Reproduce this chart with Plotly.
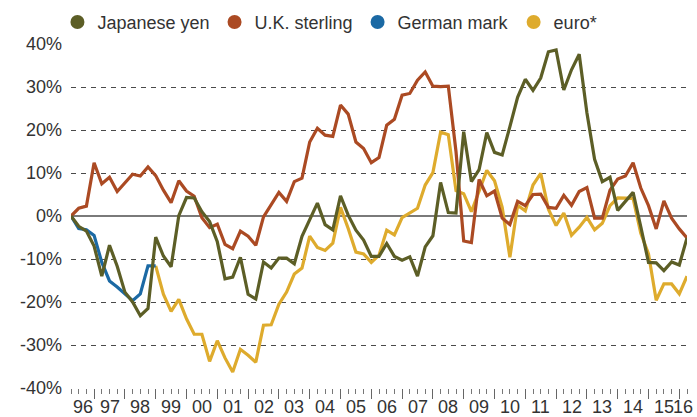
import plotly.graph_objects as go

# Quarterly observations, 1996 Q2 through 2016 Q2 (decimal years)
quarters = [1996.25 + 0.25 * i for i in range(81)]

# Cumulative change against the U.S. dollar, percent
yen = [
    0, -2.4, -3.5, -7.0, -14.0, -6.8, -11.7, -17.7, -20.0, -23.2,
    -21.5, -4.9, -9.3, -11.8, 0.1, 4.3, 4.2, 1.0, -1.3, -6.0,
    -14.6, -14.2, -9.6, -18.2, -19.3, -10.7, -12.1, -9.8, -9.8, -11.1,
    -4.7, -0.8, 3.0, -2.0, -3.2, 4.7, 0.2, -3.3, -5.6, -9.4,
    -9.4, -6.4, -9.4, -10.3, -9.5, -14.0, -7.2, -4.6, 7.8, 0.8,
    0.7, 19.6, 8.0, 10.8, 19.4, 14.8, 14.2, 20.8, 27.6, 31.8,
    29.2, 32.1, 38.2, 38.6, 29.3, 34.0, 37.6, 24.0, 13.2, 8.0,
    9.0, 1.3, 3.4, 5.5, -2.5, -10.8, -10.9, -12.7, -10.7, -11.4,
    -5.1,
]
sterling = [
    0, 1.8, 2.3, 12.4, 7.5, 9.0, 5.7, 7.6, 9.7, 9.3,
    11.4, 9.4, 6.0, 3.1, 8.2, 5.8, 4.6, -0.4, -2.7, -1.9,
    -6.6, -7.6, -3.5, -4.7, -6.8, -0.2, 2.8, 5.5, 3.4, 8.0,
    8.8, 17.2, 20.4, 18.8, 18.5, 25.8, 23.7, 17.2, 15.7, 12.4,
    13.6, 21.1, 22.5, 28.1, 28.5, 31.6, 33.5, 30.2, 30.1, 30.2,
    15.0, -5.8, -6.2, 8.5, 4.7, 5.8, -0.5, -2.0, 3.4, 2.4,
    5.0, 5.1, 2.0, 1.8, 4.8, 2.5, 5.7, 6.6, -0.5, -0.5,
    6.0, 8.6, 9.3, 12.4, 6.5, 2.4, -3.0, 3.5, -0.5, -3.0,
    -5.1,
]
# German mark until the changeover, euro from 1999 onward
mark = [0, -2.9, -3.2, -4.5, -10.8, -15.1, -16.5, -18.0, -19.7, -18.1, -11.6, -11.6]
euro = [
    -11.6, -18.2, -22.2, -19.4, -23.9, -27.5, -27.5, -33.8, -29.0,
    -33.0, -36.3, -31.0, -32.4, -34.0, -25.4, -25.3, -20.5, -17.7, -13.5,
    -12.1, -4.7, -7.3, -8.0, -6.3, 2.0, -2.9, -8.4, -8.8, -10.8,
    -9.1, -3.3, -4.4, -0.4, 0.6, 1.8, 7.2, 10.1, 19.5, 18.9,
    5.9, 5.2, 1.0, 6.0, 10.6, 8.2, 2.0, -9.6, 2.5, 1.2,
    7.2, 9.9, 1.6, -2.2, 0.7, -4.5, -2.6, -0.3, -3.2, -1.7,
    2.4, 4.2, 4.2, 4.1, -4.0, -8.8, -19.6, -15.8, -15.8, -18.1,
    -14.0,
]
mark_x = quarters[:len(mark)]
euro_x = quarters[len(quarters) - len(euro):]

series_names = ["Japanese yen", "U.K. sterling", "German mark", "euro*"]
series_colors = ["#5c5e26", "#ab4a23", "#1b69a4", "#deab2d"]

y_tick_vals = [-40, -30, -20, -10, 0, 10, 20, 30, 40]
y_tick_labels = ["-40%", "-30%", "-20%", "-10%", "0%", "10%", "20%", "30%", "40%"]

years = list(range(1996, 2017))
year_labels = ["96", "97", "98", "99", "00", "01", "02", "03", "04", "05", "06",
               "07", "08", "09", "10", "11", "12", "13", "14", "15", "16"]

x_start, x_end = quarters[0], quarters[-1]
FONT = "Liberation Sans, Arial, Helvetica, sans-serif"
TEXT = "#333333"

fig = go.Figure()

# legend entries drawn as round dots
for name, color in zip(series_names, series_colors):
    fig.add_trace(go.Scatter(
        x=[None], y=[None], mode="markers", name=name,
        marker=dict(color=color, size=14, symbol="circle"),
        showlegend=True, hoverinfo="skip",
    ))

# lines, euro at the bottom and yen on top
line_sets = [
    (euro_x, euro, series_colors[3], series_names[3]),
    (mark_x, mark, series_colors[2], series_names[2]),
    (quarters, sterling, series_colors[1], series_names[1]),
    (quarters, yen, series_colors[0], series_names[0]),
]
for xs, ys, color, name in line_sets:
    fig.add_trace(go.Scatter(
        x=xs, y=ys, mode="lines", name=name, showlegend=False,
        line=dict(color=color, width=3.2),
    ))

# year labels centred on the visible part of each year
for yr, lab in zip(years, year_labels):
    lo = max(yr, x_start)
    hi = min(yr + 1, x_end)
    fig.add_annotation(
        x=(lo + hi) / 2, xref="x", y=-0.056, yref="paper",
        text=lab, showarrow=False, xanchor="center", yanchor="middle",
        font=dict(family=FONT, size=18, color=TEXT),
    )

year_ticks = [y for y in years if x_start < y <= x_end]
quarter_ticks = [q for q in quarters if q not in year_ticks]

fig.update_layout(
    width=697, height=417,
    margin=dict(l=71, r=10, t=44, b=29, autoexpand=False),
    paper_bgcolor="white", plot_bgcolor="white",
    font=dict(family=FONT, size=18, color=TEXT),
    showlegend=True,
    legend=dict(
        orientation="h", x=-0.022, xanchor="left", y=1.063, yanchor="middle",
        font=dict(family=FONT, size=18, color=TEXT),
        bgcolor="rgba(0,0,0,0)", itemsizing="trace",
    ),
    xaxis=dict(
        range=[x_start, x_end], showgrid=False, zeroline=False, showline=False,
        tickmode="array", tickvals=year_ticks, showticklabels=False,
        ticks="outside", ticklen=10, tickwidth=1.3, tickcolor="#666666",
        minor=dict(tickmode="array", tickvals=quarter_ticks, ticks="outside",
                   ticklen=5, tickwidth=1.3, tickcolor="#777777", showgrid=False),
    ),
    yaxis=dict(
        range=[-40, 40], tickmode="array", tickvals=y_tick_vals, ticktext=y_tick_labels,
        showgrid=True, gridcolor="#4a4a4a", griddash="5px,5px", gridwidth=1.2,
        zeroline=True, zerolinecolor="#7a7a7a", zerolinewidth=1.6,
        showline=False, ticks="", ticklabelstandoff=8,
        tickfont=dict(family=FONT, size=18, color=TEXT),
    ),
)

fig.write_html("out.html")
